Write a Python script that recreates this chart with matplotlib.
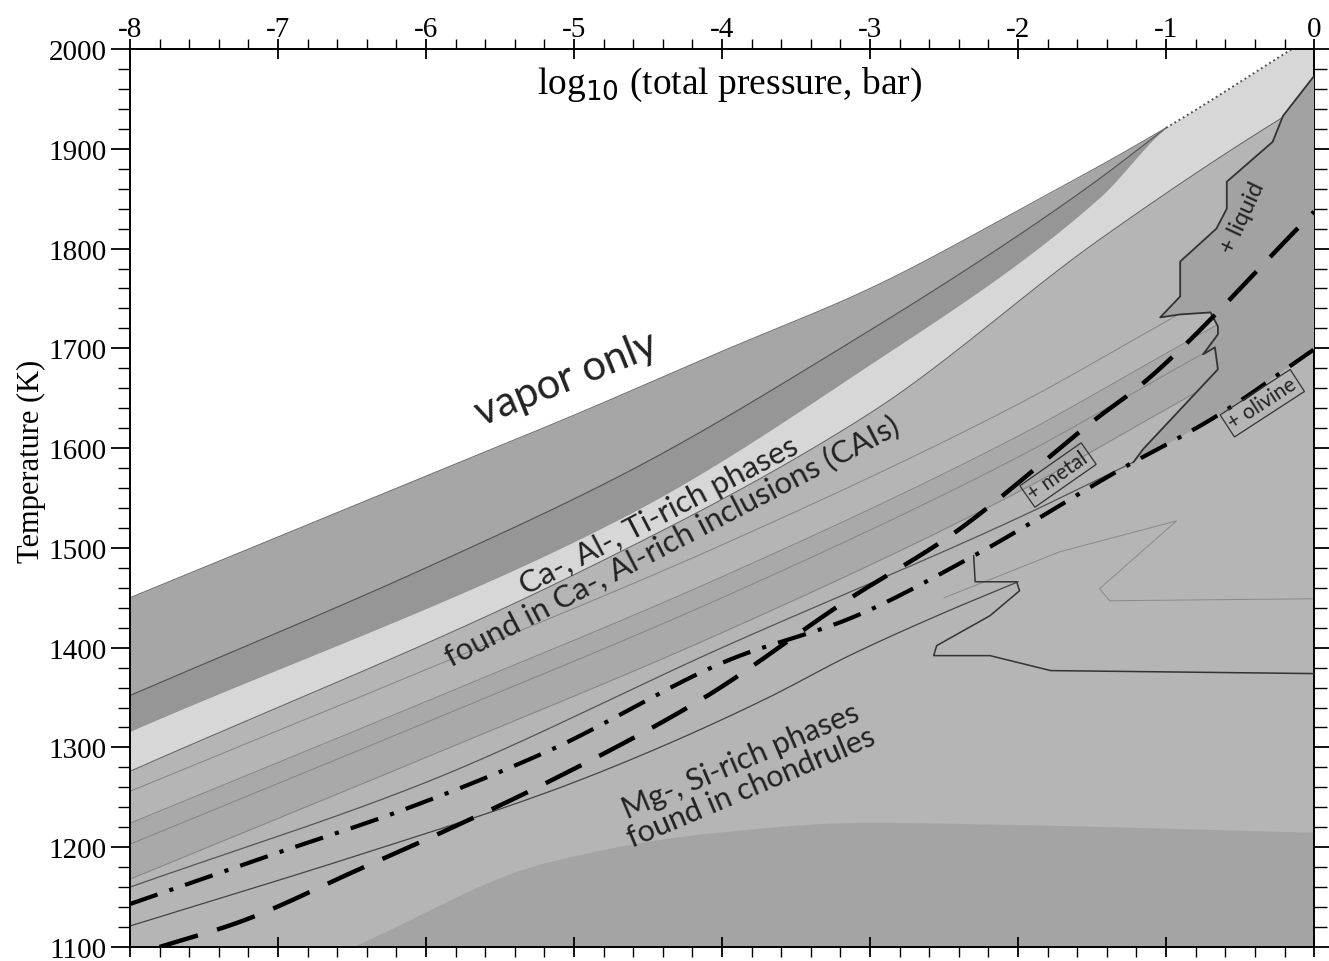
#!/usr/bin/env python

import matplotlib
matplotlib.use('Agg')
import matplotlib.pyplot as plt
import numpy as np
from matplotlib.ticker import MultipleLocator, FormatStrFormatter

plt.rcParams['axes.unicode_minus'] = False

## condensation boundaries, log10(P) vs T (K)
vapor_x = [-8, -7, -6, -5, -4, -3, -2, -1, -0.15]
vapor_T = [1450, 1511, 1572, 1633, 1697, 1760, 1838, 1921, 2000]

lineA_x = [-8, -6, -4.6, -3.1, -2, -1.45, -1.0]
lineA_T = [1352, 1480, 1579, 1709, 1813, 1870, 1921]

dark_x = [-8, -4.6, -3.1, -1.45, -1.0, -0.15, 0]
dark_T = [1316, 1536, 1674, 1851, 1921, 2000, 2000]

lineB_x = [-8, -5, -3, -1.45, -0.25, 0]
lineB_T = [1276, 1473, 1635, 1809, 1928, 1950]

stack_x = [-8, -6, -4, -2, -1, 0]
L1256_T = [1256, 1378, 1503, 1644, 1727, 1810]
L1224_T = [1224, 1346, 1471, 1612, 1695, 1778]
L1203_T = [1203, 1325, 1450, 1591, 1674, 1757]
L1168_T = [1168, 1290, 1415, 1556, 1639, 1722]

L1160_x = [-8, -6, -4, -2, -1.22]
L1160_T = [1160, 1265, 1400, 1530, 1586]

low_x = [-8, -6.5, -5.18, -4.5, -3.7, -3.14, -2.5, -2.0]
low_T = [1121, 1190, 1255, 1295, 1349, 1392, 1435, 1466]

dashed_x = [-7.8, -7.26, -6.45, -5.95, -5.18, -4.13, -3.14, -2.46, -1.45, -1.18, 0]
dashed_T = [1100, 1125, 1178, 1211, 1265, 1349, 1449, 1512, 1632, 1662, 1837]

dashdot_x = [-8, -7.07, -6.18, -5.18, -3.93, -3.14, -2.30, -1.22, -0.93, -0.66, 0]
dashdot_T = [1143, 1191, 1236, 1296, 1389, 1429, 1492, 1586, 1609, 1632, 1699]

liquid_x = [0, -0.21, -0.28, -0.59, -0.59, -0.66, -0.905, -0.905, -1.04, -0.905,
            -0.70, -0.65, -0.65, -0.75, -0.67, -0.65, -1.155, -1.22]
liquid_T = [1973, 1933, 1907, 1867, 1840, 1820, 1787, 1752, 1731, 1734,
            1736, 1722, 1714, 1694, 1701, 1679, 1599, 1586]

bulge_x = [-2.30, -2.29, -2.01, -1.99, -2.19, -2.55, -2.57, -2.19, -1.78, 0]
bulge_T = [1492, 1466, 1466, 1457, 1432, 1402, 1392, 1392, 1377, 1374]

faint_x = [-2.5, -1.72, -0.93, -1.45, -1.38, 0]
faint_T = [1450, 1496, 1527, 1459, 1447, 1449]

dome_x = [-6.5, -5.18, -4.03, -3.02, -2.12, 0]
dome_T = [1100, 1185, 1215, 1225, 1223, 1215]

xticks = [-8, -7, -6, -5, -4, -3, -2, -1, 0]
yticks = [1100, 1200, 1300, 1400, 1500, 1600, 1700, 1800, 1900, 2000]


def smooth(xs, ys, x):
    """monotone cubic (pchip) through the read points"""
    xs = np.asarray(xs, float)
    ys = np.asarray(ys, float)
    x = np.asarray(x, float)
    h = np.diff(xs)
    d = np.diff(ys) / h
    m = np.zeros_like(ys)
    m[0], m[-1] = d[0], d[-1]
    for i in range(1, len(xs) - 1):
        if d[i - 1] * d[i] > 0:
            w1 = 2 * h[i] + h[i - 1]
            w2 = h[i] + 2 * h[i - 1]
            m[i] = (w1 + w2) / (w1 / d[i - 1] + w2 / d[i])
    i = np.clip(np.searchsorted(xs, x) - 1, 0, len(xs) - 2)
    t = (x - xs[i]) / h[i]
    return ((2 * t**3 - 3 * t**2 + 1) * ys[i] + (t**3 - 2 * t**2 + t) * h[i] * m[i]
            + (-2 * t**3 + 3 * t**2) * ys[i + 1] + (t**3 - t**2) * h[i] * m[i + 1])


def span(xs, n=400):
    return np.linspace(xs[0], xs[-1], n)


fig = plt.figure(figsize=(13.29, 9.62), dpi=100)
ax = fig.add_axes([0.0978, 0.0146, 0.891, 0.9334])

xx = np.linspace(-8, 0, 801)
v = np.where(xx <= vapor_x[-1], smooth(vapor_x, vapor_T, xx), 2000)

## gray field under the vapor boundary
ax.fill_between(xx, 1100, v, color='#b5b5b5', lw=0, zorder=1)

## upper bands
xa = span(lineA_x)
ax.fill_between(xa, smooth(lineA_x, lineA_T, xa), smooth(vapor_x, vapor_T, xa),
                color='#a6a6a6', lw=0, zorder=1.1)
ax.fill_between(xa, smooth(dark_x, dark_T, xa), smooth(lineA_x, lineA_T, xa),
                color='#969696', lw=0, zorder=1.1)
ax.fill_between(xx, smooth(lineB_x, lineB_T, xx), np.minimum(smooth(dark_x, dark_T, xx), v),
                color='#d7d7d7', lw=0, zorder=1.1)

## darker stripe in the lower stack and the dome at the bottom
ax.fill_between(xx, smooth(stack_x, L1168_T, xx), smooth(stack_x, L1224_T, xx),
                color='#a9a9a9', lw=0, zorder=1.1)
xd = span(dome_x)
ax.fill_between(xd, 1100, smooth(dome_x, dome_T, xd), color='#a4a4a4', lw=0, zorder=1.1)

## thin boundary lines
ax.plot(xa, smooth(lineA_x, lineA_T, xa), color='#555555', lw=0.9, zorder=2)
ax.plot(xx, smooth(lineB_x, lineB_T, xx), color='#666666', lw=0.8, zorder=2)
for T in (L1256_T, L1224_T, L1203_T, L1168_T):
    ax.plot(xx, smooth(stack_x, T, xx), color='#858585', lw=0.7, zorder=2)
xs = span(L1160_x)
ax.plot(xs, smooth(L1160_x, L1160_T, xs), color='#555555', lw=0.9, zorder=2)
xs = span(low_x)
ax.plot(xs, smooth(low_x, low_T, xs), color='#444444', lw=0.9, zorder=2)
ax.plot(faint_x, faint_T, color='#8a8a8a', lw=0.7, zorder=2)

## vapor boundary: solid edge, dotted near the top
xs = np.linspace(-8, -1.0, 300)
ax.plot(xs, smooth(vapor_x, vapor_T, xs), color='#707070', lw=0.8, zorder=2)
xs = np.linspace(-1.0, vapor_x[-1], 60)
ax.plot(xs, smooth(vapor_x, vapor_T, xs), color='#555555', lw=1.4, ls=(0, (1, 1.5)), zorder=2)

## + liquid field
xr = np.linspace(liquid_x[-1], 0, 80)
poly_x = liquid_x + list(xr) + [0]
poly_T = liquid_T + list(smooth(dashdot_x, dashdot_T, xr)) + [liquid_T[0]]
ax.fill(poly_x, poly_T, color='#a2a2a2', lw=0, zorder=3)
ax.plot(liquid_x, liquid_T, color='#333333', lw=1.3, zorder=4)
ax.plot(bulge_x, bulge_T, color='#333333', lw=1.1, zorder=4)

## condensation curves
xs = span(dashed_x)
ax.plot(xs, smooth(dashed_x, dashed_T, xs), color='black', lw=3.2,
        ls=(0, (9, 4.5)), zorder=5)
xs = span(dashdot_x)
ax.plot(xs, smooth(dashdot_x, dashdot_T, xs), color='black', lw=3.0,
        ls=(0, (7, 3, 1, 3)), zorder=5)

## labels
txt = dict(family='Lato', color='#222222', zorder=6)
ax.text(-5.05, 1670, 'vapor only', fontsize=30, rotation=22,
        ha='center', va='center', rotation_mode='anchor', **txt)
ax.text(-4.38, 1520, 'Ca-, Al-, Ti-rich phases\nfound in Ca-, Al-rich inclusions (CAIs)',
        fontsize=22.5, rotation=27.5, ha='center', va='center', multialignment='center',
        rotation_mode='anchor', linespacing=1.0, **txt)
ax.text(-3.84, 1274, 'Mg-, Si-rich phases\nfound in chondrules',
        fontsize=22, rotation=23, ha='center', va='center', multialignment='center',
        rotation_mode='anchor', linespacing=1.0, **txt)
ax.text(-0.48, 1832, '+ liquid', fontsize=17, rotation=65,
        ha='center', va='center', rotation_mode='anchor', **txt)
box = dict(boxstyle='square,pad=0.15', fc='none', ec='#333333', lw=0.9)
ax.text(-1.73, 1573, '+ metal', fontsize=15, rotation=35,
        ha='center', va='center', rotation_mode='anchor', bbox=box, **txt)
ax.text(-0.35, 1645, '+ olivine', fontsize=15, rotation=33,
        ha='center', va='center', rotation_mode='anchor', bbox=box, **txt)

ax.text(-3.95, 1965, r'log$_{10}$ (total pressure, bar)', fontsize=27,
        family='Liberation Serif', ha='center', va='center', zorder=6)

## axes
ax.set_xlim(-8, 0)
ax.set_ylim(1100, 2000)
ax.set_xticks(xticks)
ax.set_yticks(yticks)
ax.xaxis.set_minor_locator(MultipleLocator(0.2))
ax.yaxis.set_minor_locator(MultipleLocator(20))
ax.xaxis.set_major_formatter(FormatStrFormatter('%d'))
ax.tick_params(axis='x', which='both', top=True, bottom=True,
               labeltop=True, labelbottom=False, pad=-2)
ax.tick_params(axis='x', which='major', direction='inout', length=14, width=1.3)
ax.tick_params(axis='x', which='minor', direction='out', length=7, width=1.0)
ax.tick_params(axis='y', which='both', left=True, right=True, direction='out', pad=3)
ax.tick_params(axis='y', which='major', length=14, width=1.3)
ax.tick_params(axis='y', which='minor', length=9, width=1.0)
for lab in ax.get_xticklabels() + ax.get_yticklabels():
    lab.set_family('Liberation Serif')
    lab.set_fontsize(21)
for s in ax.spines.values():
    s.set_linewidth(1.4)

fig.text(0.0235, 0.52, 'Temperature (K)', rotation=90, fontsize=22,
         family='Liberation Serif', ha='center', va='center')

plt.savefig('out.png', dpi=100)
